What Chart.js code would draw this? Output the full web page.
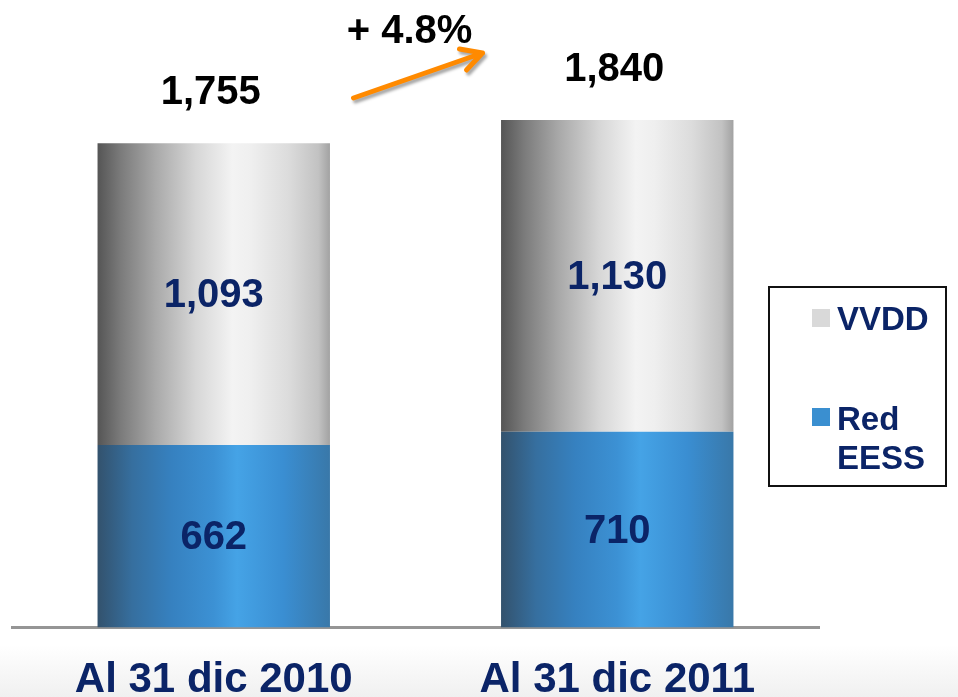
<!DOCTYPE html>
<html>
<head>
<meta charset="utf-8">
<script src="https://cdn.jsdelivr.net/npm/chart.js@4.4.1/dist/chart.umd.min.js"></script>
<style>
  html, body { margin: 0; padding: 0; }
  body {
    width: 958px; height: 697px; overflow: hidden;
    background: linear-gradient(to bottom, #fff 0, #fff 645px, #f0f0f0 697px);
  }
</style>
</head>
<body>
<canvas id="chart" width="958" height="697"></canvas>
<script>
const categories = ["Al 31 dic 2010", "Al 31 dic 2011"];
const redEess = [662, 710];
const vvdd = [1093, 1130];
const totals = [1755, 1840];
const growthLabel = "+ 4.8%";
const legendNames = ["VVDD", "Red EESS"];

const FONT = '"Liberation Sans", Arial, sans-serif';
const NAVY = "#0b2467";
const CAT_PCT = 0.576;

const greyStops = [[0, "#555"], [0.1, "#7b7b7b"], [0.25, "#a9a9a9"], [0.42, "#d6d6d6"],
  [0.58, "#f3f3f3"], [0.66, "#efefef"], [0.82, "#dcdcdc"], [0.95, "#c2c2c2"], [1, "#a2a2a2"]];
const blueStops = [[0, "#33526d"], [0.15, "#366f9f"], [0.32, "#3681c0"], [0.5, "#3c91d4"],
  [0.6, "#45a3e6"], [0.8, "#3a8ed2"], [1, "#3978a9"]];

function barGradient(stops, fallback) {
  return ctx => {
    const chart = ctx.chart;
    const area = chart.chartArea;
    if (!area || ctx.type !== "data") return fallback;
    const cx = chart.scales.x.getPixelForValue(ctx.dataIndex);
    const half = (area.right - area.left) / categories.length * CAT_PCT / 2;
    const g = chart.ctx.createLinearGradient(cx - half, 0, cx + half, 0);
    stops.forEach(([o, c]) => g.addColorStop(o, c));
    return g;
  };
}

const fmt = v => v.toLocaleString("en-US");

const labelsPlugin = {
  id: "labels",
  afterDatasetsDraw(chart) {
    const c = chart.ctx;
    c.save();
    c.textAlign = "center";

    // values inside the segments
    c.textBaseline = "middle";
    c.font = "bold 40px " + FONT;
    c.fillStyle = NAVY;
    chart.data.datasets.forEach((ds, di) => {
      chart.getDatasetMeta(di).data.forEach((bar, i) => {
        c.fillText(fmt(ds.data[i]), bar.x, (bar.y + bar.base) / 2 + 2);
      });
    });

    // totals above the bars
    c.textBaseline = "alphabetic";
    c.fillStyle = "#000";
    const topBars = chart.getDatasetMeta(chart.data.datasets.length - 1).data;
    topBars.forEach((bar, i) => c.fillText(fmt(totals[i]), bar.x - 3, bar.y - 39));

    // growth arrow
    const mid = (topBars[0].x + topBars[1].x) / 2;
    c.fillText(growthLabel, mid - 6, 43);
    c.shadowColor = "rgba(0,0,0,0.35)";
    c.shadowOffsetX = 2;
    c.shadowOffsetY = 3;
    c.shadowBlur = 3;
    c.strokeStyle = "#ff8a00";
    c.lineWidth = 5;
    c.lineCap = "round";
    c.lineJoin = "round";
    c.beginPath();
    c.moveTo(mid - 62, 98);
    c.lineTo(mid + 67, 53);
    c.moveTo(mid + 44, 49);
    c.lineTo(mid + 67, 53);
    c.lineTo(mid + 51, 70);
    c.stroke();
    c.restore();
  },
  afterDraw(chart) {
    const c = chart.ctx;
    c.save();
    c.strokeStyle = "#111";
    c.lineWidth = 2;
    c.strokeRect(769, 287, 177, 199);
    c.font = "bold 33px " + FONT;
    c.fillStyle = "#d9d9d9";
    c.fillRect(812, 309, 18, 18);
    c.fillStyle = "#3a8fd0";
    c.fillRect(812, 408, 18, 18);
    c.fillStyle = NAVY;
    c.textAlign = "left";
    c.textBaseline = "alphabetic";
    c.fillText(legendNames[0], 837, 330);
    const parts = legendNames[1].split(" ");
    c.fillText(parts[0], 837, 430);
    c.fillText(parts[1], 837, 469);
    c.restore();
  }
};

new Chart(document.getElementById("chart"), {
  type: "bar",
  data: {
    labels: categories,
    datasets: [
      { label: legendNames[1], data: redEess, backgroundColor: barGradient(blueStops, "#3a8fd0"),
        barPercentage: 1, categoryPercentage: CAT_PCT },
      { label: legendNames[0], data: vvdd, backgroundColor: barGradient(greyStops, "#d9d9d9"),
        barPercentage: 1, categoryPercentage: CAT_PCT }
    ]
  },
  options: {
    responsive: false,
    animation: false,
    devicePixelRatio: 1,
    layout: { padding: { left: 12, right: 139, top: 20.6, bottom: -37.1 } },
    plugins: { legend: { display: false }, tooltip: { enabled: false } },
    scales: {
      x: {
        stacked: true,
        grid: { display: false, drawTicks: false },
        border: { display: true, color: "#959595", width: 3 },
        ticks: { color: NAVY, padding: 36.5, font: { family: FONT, size: 42, weight: "bold", lineHeight: 0.8 } }
      },
      y: { stacked: true, display: false, min: 0, max: 2200 }
    }
  },
  plugins: [labelsPlugin]
});
</script>
</body>
</html>
